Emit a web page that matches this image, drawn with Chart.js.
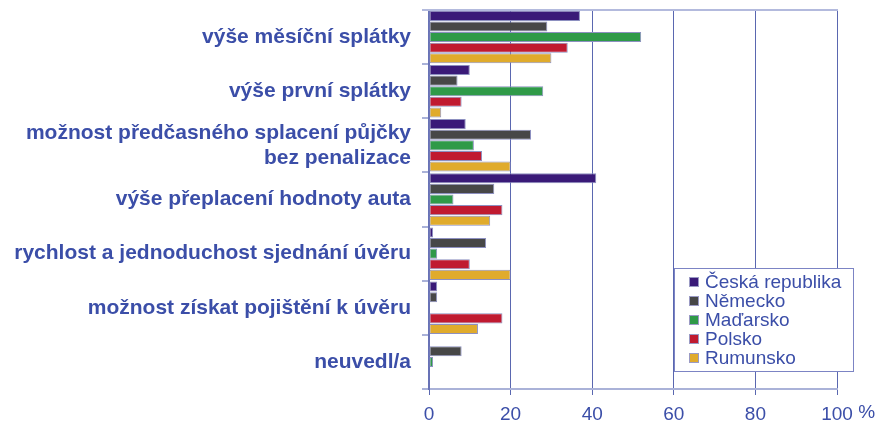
<!DOCTYPE html>
<html>
<head>
<meta charset="utf-8">
<script src="https://cdn.jsdelivr.net/npm/chart.js@4.4.0/dist/chart.umd.min.js"></script>
<style>
  body { margin: 0; background: #fff; }
  canvas { display: block; }
</style>
</head>
<body>
<canvas id="graf" width="896" height="427"></canvas>
<script>
const kategorie = [
  'výše měsíční splátky',
  'výše první splátky',
  ['možnost předčasného splacení půjčky', 'bez penalizace'],
  'výše přeplacení hodnoty auta',
  'rychlost a jednoduchost sjednání úvěru',
  'možnost získat pojištění k úvěru',
  'neuvedl/a'
];
const zeme = ['Česká republika', 'Německo', 'Maďarsko', 'Polsko', 'Rumunsko'];
const ceskaRepublika = [37, 10, 9, 41, 1, 2, 0];
const nemecko = [29, 7, 25, 16, 14, 2, 8];
const madarsko = [52, 28, 11, 6, 2, 0, 1];
const polsko = [34, 8, 13, 18, 10, 18, 0];
const rumunsko = [30, 3, 20, 15, 20, 12, 0];
const osaX = [0, 20, 40, 60, 80, 100];

const barvy = ['#3a1a78', '#474747', '#2f9a48', '#c01a30', '#e0ab2c'];
const modra = '#3b4ea8';
const pismo = '"Liberation Sans", Arial, sans-serif';

const hodnoty = [ceskaRepublika, nemecko, madarsko, polsko, rumunsko];

// ramecek nahore + legenda uvnitr grafu
const doplnky = {
  id: 'doplnky',
  afterDraw(chart) {
    const c = chart.ctx;
    const a = chart.chartArea;
    c.save();
    c.strokeStyle = '#b3badd';
    c.lineWidth = 2;
    c.beginPath();
    c.moveTo(a.left - 7, a.top);
    c.lineTo(a.right + 1, a.top);
    c.stroke();

    // procenta za 100
    const sx = chart.scales.x;
    c.font = '19px ' + pismo;
    c.fillStyle = modra;
    c.textBaseline = 'middle';
    const w = c.measureText('100').width;
    c.fillText(' %', sx.getPixelForValue(100) + w / 2, 413);

    // legenda
    const lx = 674, ly = 268, lw = 179, lh = 103;
    c.fillStyle = '#fff';
    c.fillRect(lx, ly, lw, lh);
    c.strokeStyle = '#7c84c4';
    c.lineWidth = 1;
    c.strokeRect(lx + 0.5, ly + 0.5, lw, lh);
    chart.data.datasets.forEach((ds, i) => {
      const y = ly + 14 + i * 19;
      c.fillStyle = ds.backgroundColor;
      c.fillRect(lx + 15, y - 5, 10, 10);
      c.strokeStyle = '#9a9ac4';
      c.strokeRect(lx + 15.5, y - 4.5, 9, 9);
      c.fillStyle = modra;
      c.font = '19px ' + pismo;
      c.textBaseline = 'middle';
      c.fillText(ds.label, lx + 31, y + 1);
    });
    c.restore();
  }
};

new Chart(document.getElementById('graf'), {
  type: 'bar',
  data: {
    labels: kategorie,
    datasets: zeme.map((z, i) => ({
      label: z,
      data: hodnoty[i],
      backgroundColor: barvy[i],
      borderColor: '#8d90c0',
      borderWidth: 1,
      borderSkipped: false,
      categoryPercentage: 0.98,
      barPercentage: 0.95
    }))
  },
  options: {
    indexAxis: 'y',
    responsive: false,
    animation: false,
    layout: { padding: { top: 10, right: 59, left: 0, bottom: 0 } },
    plugins: { legend: { display: false }, tooltip: { enabled: false } },
    scales: {
      x: {
        min: 0,
        max: 100,
        afterBuildTicks: s => { s.ticks = osaX.map(v => ({ value: v })); },
        afterFit: s => { s.height = 38; s.paddingLeft = 0; s.paddingRight = 0; },
        grid: { color: '#5a67b0', lineWidth: 1, tickLength: 6, tickColor: '#5a67b0' },
        border: { color: '#aab2d8', width: 2 },
        ticks: {
          color: modra,
          font: { family: pismo, size: 19 },
          padding: 8,
          maxRotation: 0,
          callback: v => String(v)
        }
      },
      y: {
        afterFit: s => { s.width = 429; s.paddingTop = 0; s.paddingBottom = 0; },
        grid: { drawOnChartArea: false, tickLength: 7, tickColor: '#aab2d8', lineWidth: 2 },
        border: { color: '#6872b6', width: 2 },
        ticks: {
          color: modra,
          autoSkip: false,
          font: { family: pismo, size: 21, weight: 'bold', lineHeight: 1.2 },
          padding: 11
        }
      }
    }
  },
  plugins: [doplnky]
});
</script>
</body>
</html>
